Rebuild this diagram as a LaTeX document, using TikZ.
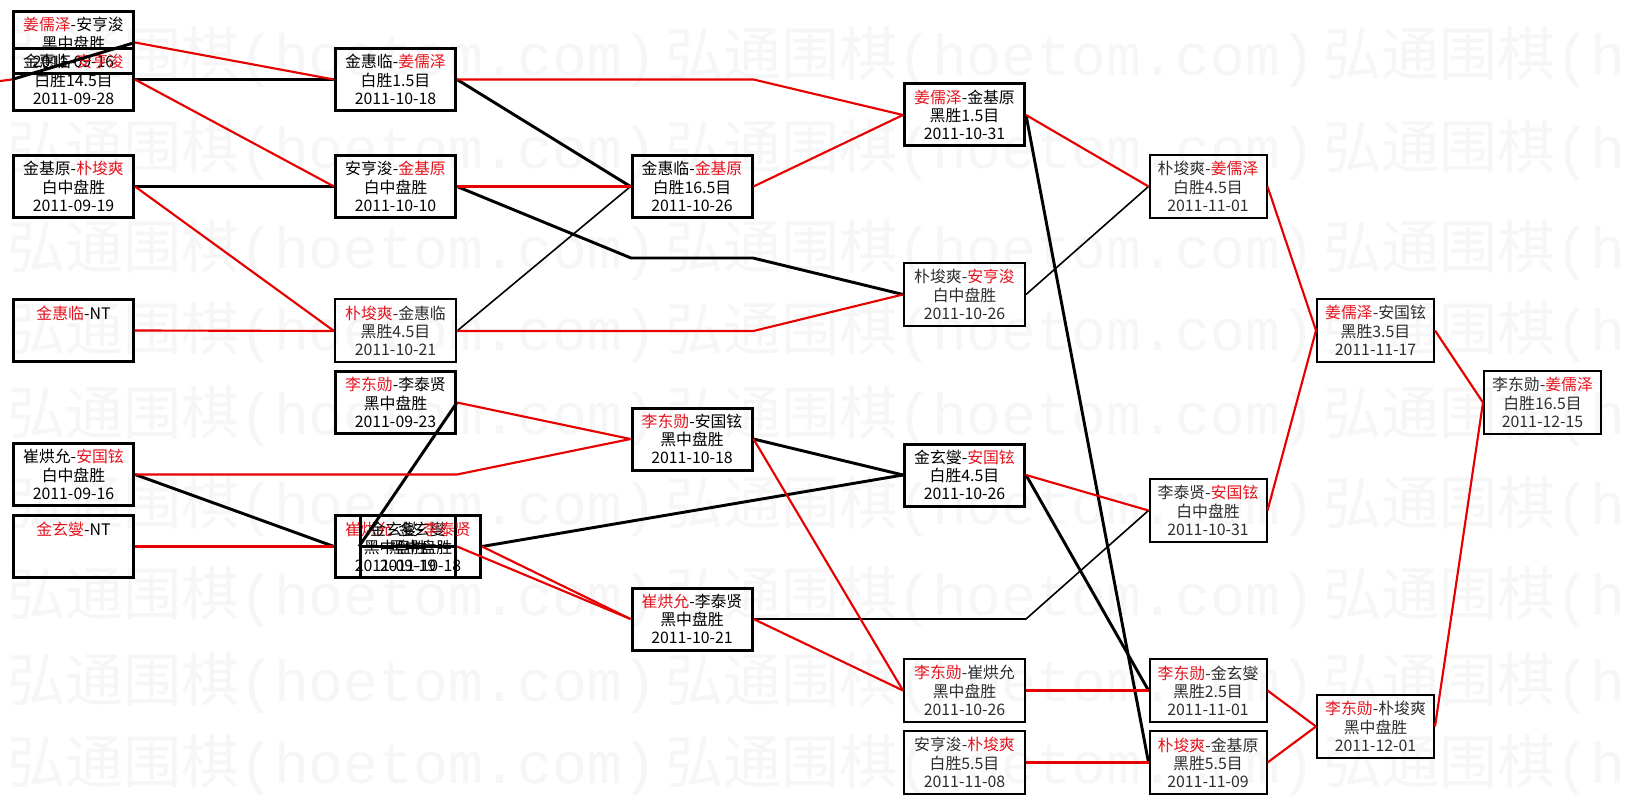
\documentclass[tikz,border=0pt]{standalone}
\usepackage{fontspec}
\newfontfamily\cjk{Noto Sans CJK SC}
\newfontfamily\wmmono{Liberation Mono}
\usetikzlibrary{calc}
\definecolor{wred}{RGB}{228,20,30}
\definecolor{lred}{RGB}{232,0,0}
\definecolor{wmgray}{RGB}{246,246,246}
\newcommand\redname[1]{\textcolor{wred}{#1}}
\begin{document}
\begin{tikzpicture}[x=0.75pt,y=-0.75pt,
  box/.style={draw, line width=2.25pt, minimum width=90pt, minimum height=46.5pt,
    inner sep=0pt, align=center, font=\cjk\fontsize{11.9}{13.6}\selectfont},
  tbox/.style={box, line width=1.5pt, minimum width=90.75pt, minimum height=47.25pt, text=black!82},
  nbox/.style={tbox, minimum width=87.75pt},
  blk/.style={draw=black, line width=2.2pt},
  blkt/.style={draw=black, line width=1.2pt},
  rl/.style={draw=lred, line width=1.6pt},
  wm/.style={anchor=west, inner sep=0pt, text=wmgray, font=\fontsize{43.5}{50}\selectfont}]
\useasboundingbox (0,0) rectangle (1627,805);
\fill[white] (0,0) rectangle (1627,805);
% watermark
\begin{scope}
\clip (0,0) rectangle (1627,805);
\foreach \r/\yy in {1/57,2/150,3/250,4/332,5/416,6/506,7/597,8/683,9/765}{
  \foreach \k in {0,1,2}{
    \node[wm] (wm\r\k) at ({7+658*\k},\yy) {{\cjk 弘通围棋}{\wmmono (hoetom.com)}};
  }
}
\end{scope}
% column 1
\node[box] (b1) at (73.5,42.5) {\redname{姜儒泽}-安亨浚\\黑中盘胜\\2011-09-16};
\node[box] (b2) at (73.5,79.5) {金惠临-\redname{安亨浚}\\白胜14.5目\\2011-09-28};
\node[box] (b3) at (73.5,186.5) {金基原-\redname{朴埈爽}\\白中盘胜\\2011-09-19};
\node[box, line width=1.8pt] (b4) at (73.5,330.5) {\redname{金惠临}-NT\\\mbox{}\\\mbox{}};
\node[box] (b5) at (73.5,474.5) {崔烘允-\redname{安国铉}\\白中盘胜\\2011-09-16};
\node[box] (b6) at (73.5,546.5) {\redname{金玄燮}-NT\\\mbox{}\\\mbox{}};
% column 2
\node[box] (c1) at (395.5,79.5) {金惠临-\redname{姜儒泽}\\白胜1.5目\\2011-10-18};
\node[box] (c2) at (395.5,186.5) {安亨浚-\redname{金基原}\\白中盘胜\\2011-10-10};
\node[tbox] (c3) at (395.5,331) {\redname{朴埈爽}-金惠临\\黑胜4.5目\\2011-10-21};
\node[box] (c4) at (395.5,402.5) {\redname{李东勋}-李泰贤\\黑中盘胜\\2011-09-23};
\node[box] (ca) at (395.5,546.5) {\redname{崔烘允}-金玄燮\\黑中盘胜\\2011-09-19};
\node[box] (cb) at (420.5,546.5) {金玄燮-\redname{李泰贤}\\黑中盘胜\\2011-10-18};
% column 3
\node[box] (d1) at (692,186.5) {金惠临-\redname{金基原}\\白胜16.5目\\2011-10-26};
\node[box] (d2) at (692,439) {\redname{李东勋}-安国铉\\黑中盘胜\\2011-10-18};
\node[box] (d3) at (692,619) {\redname{崔烘允}-李泰贤\\黑中盘胜\\2011-10-21};
% column 4
\node[box] (e1) at (964.5,115) {\redname{姜儒泽}-金基原\\黑胜1.5目\\2011-10-31};
\node[tbox] (e2) at (964.5,294.5) {朴埈爽-\redname{安亨浚}\\白中盘胜\\2011-10-26};
\node[box] (e3) at (964.5,475) {金玄燮-\redname{安国铉}\\白胜4.5目\\2011-10-26};
\node[tbox] (e4) at (964.5,690.5) {\redname{李东勋}-崔烘允\\黑中盘胜\\2011-10-26};
\node[tbox] (e5) at (964.5,762.5) {安亨浚-\redname{朴埈爽}\\白胜5.5目\\2011-11-08};
% column 5
\node[nbox] (f1) at (1208,186.5) {朴埈爽-\redname{姜儒泽}\\白胜4.5目\\2011-11-01};
\node[nbox] (f2) at (1208,510.5) {李泰贤-\redname{安国铉}\\白中盘胜\\2011-10-31};
\node[nbox] (f3) at (1208,690.5) {\redname{李东勋}-金玄燮\\黑胜2.5目\\2011-11-01};
\node[nbox] (f4) at (1208,762.5) {\redname{朴埈爽}-金基原\\黑胜5.5目\\2011-11-09};
% column 6, 7
\node[nbox] (g1) at (1375.5,330.5) {\redname{姜儒泽}-安国铉\\黑胜3.5目\\2011-11-17};
\node[nbox] (g2) at (1375.5,726.5) {\redname{李东勋}-朴埈爽\\黑中盘胜\\2011-12-01};
\node[nbox] (h1) at (1542.5,402.5) {李东勋-\redname{姜儒泽}\\白胜16.5目\\2011-12-15};
% helper coordinates
\coordinate (in1) at (0,81);
\coordinate (k1) at (631,258);
\coordinate (k2) at (753,258);
% black connectors
\draw[blk] (b1.east) -- (b2.west);
\draw[blk] (b2.east) -- (c1.west);
\draw[blk] (b3.east) -- (c2.west);
\draw[blk] (c1.east) -- (d1.west);
\draw[blk] (c2.east) -- (k1) -- (k2) -- (e2.west);
\draw[blk] (b5.east) -- (ca.west);
\draw[blk] (c4.east) -- (cb.west);
\draw[blk] (ca.east) -- (cb.west);
\draw[blk] (cb.east) -- (e3.west);
\draw[blk] (d2.east) -- (e3.west);
\draw[blk] (e1.east) -- (f4.west);
\draw[blk] (e3.east) -- (f3.west);
\draw[blkt] (c3.east) -- (d1.west);
\draw[blkt] (d3.east) -- (d3.east -| e4.east) -- (f2.west);
\draw[blkt] (e2.east) -- (f1.west);
% red connectors
\draw[rl] (in1) -- (b2.west);
\draw[rl] (b1.east) -- (c1.west);
\draw[rl] (b2.east) -- (c2.west);
\draw[rl] (b3.east) -- (c3.west);
\draw[rl] (b4.east) -- (c3.west);
\draw[rl] (b5.east) -- (b5.east -| c4.east) -- (d2.west);
\draw[rl] (b6.east) -- (ca.west);
\draw[rl] (c1.east) -- (c1.east -| d1.east) -- (e1.west);
\draw[rl] (c2.east) -- (d1.west);
\draw[rl] (c3.east) -- (c3.east -| d1.east) -- (e2.west);
\draw[rl] (c4.east) -- (d2.west);
\draw[rl] (ca.east) -- (d3.west);
\draw[rl] (cb.east) -- (d3.west);
\draw[rl] (d1.east) -- (e1.west);
\draw[rl] (d2.east) -- (e4.west);
\draw[rl] (d3.east) -- (e4.west);
\draw[rl] (e1.east) -- (f1.west);
\draw[rl] (e3.east) -- (f2.west);
\draw[rl] (e4.east) -- (f3.west);
\draw[rl] (e5.east) -- (f4.west);
\draw[rl] (f1.east) -- (g1.west);
\draw[rl] (f2.east) -- (g1.west);
\draw[rl] (f3.east) -- (g2.west);
\draw[rl] (f4.east) -- (g2.west);
\draw[rl] (g1.east) -- (h1.west);
\draw[rl] (g2.east) -- (h1.west);
\end{tikzpicture}
\end{document}
